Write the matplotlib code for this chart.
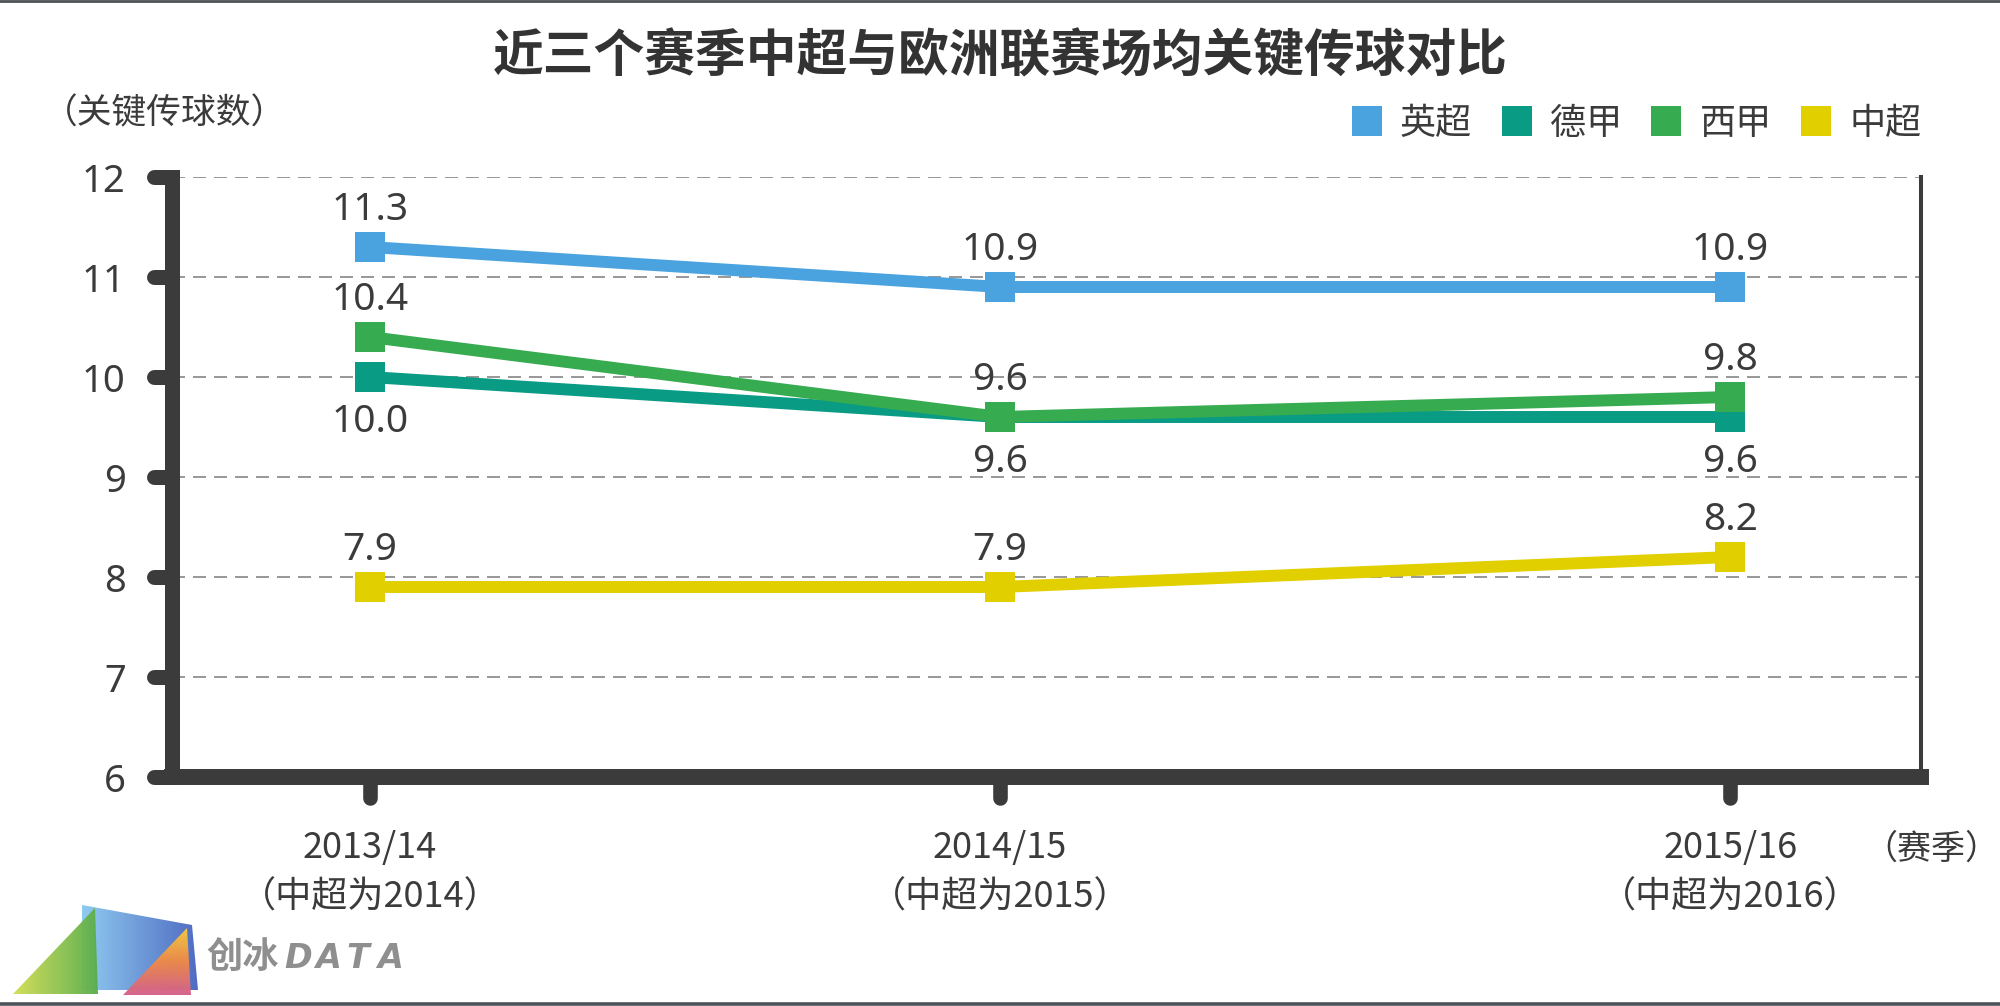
import matplotlib
matplotlib.use('Agg')
import matplotlib.pyplot as plt
import numpy as np
from matplotlib.markers import MarkerStyle
from matplotlib import lines as mlines
from matplotlib.lines import Line2D
from matplotlib.patches import Polygon
from matplotlib.colors import LinearSegmentedColormap

plt.rcParams['font.family'] = ['Noto Sans CJK SC', 'DejaVu Sans']

# ---------------- data ----------------
title = '近三个赛季中超与欧洲联赛场均关键传球对比'
seasons = ['2013/14\n（中超为2014）', '2014/15\n（中超为2015）', '2015/16\n（中超为2016）']
leagues = ['英超', '德甲', '西甲', '中超']
epl = [11.3, 10.9, 10.9]
bundesliga = [10.0, 9.6, 9.6]
laliga = [10.4, 9.6, 9.8]
csl = [7.9, 7.9, 8.2]
y_ticks = [6, 7, 8, 9, 10, 11, 12]
y_label = '（关键传球数）'
x_label = '（赛季）'
logo_text = '创冰'
logo_word = 'DATA'

# ---------------- layout / style ----------------
X_POS = [0.0, 1.0, 2.159]
colors = ['#4aa3df', '#0a9b84', '#36ab50', '#e2cf00']
label_side = [1, -1, 1, 1]
dark = '#3b3b3b'
num_font = ['Noto Sans', 'DejaVu Sans']
W, H = 2000, 1006

fig = plt.figure(figsize=(20, 10.06), dpi=100)
fig.patch.set_facecolor('white')
ax = fig.add_axes([171.5 / W, 1 - 777 / H, (1921 - 171.5) / W, 600 / H])

series = [epl, bundesliga, laliga, csl]
for vals, name, c in zip(series, leagues, colors):
    ax.plot(X_POS, vals, color=c, lw=8.6, marker='s', ms=21.6, mew=0,
            label=name, zorder=3, clip_on=False)

for vals, side in zip(series, label_side):
    for x, v in zip(X_POS, vals):
        ax.annotate(f'{v:.1f}', (x, v), xytext=(0, 19.5 if side > 0 else -39.6),
                    textcoords='offset points', ha='center', va='baseline',
                    fontsize=28, color=dark, zorder=4, family=num_font)

ax.set_xlim(-0.315, 2.462)
ax.set_ylim(6, 12)
ax.set_yticks(y_ticks)
ax.set_yticklabels([str(t) for t in y_ticks], family=num_font)
ax.set_xticks(X_POS)
ax.set_xticklabels(seasons, linespacing=1.45)
ax.tick_params(axis='x', length=15, width=10.5, color=dark, pad=23.5,
               labelsize=26, labelcolor=dark)
ax.tick_params(axis='y', length=13, width=10.8, color=dark, pad=20,
               labelsize=27.5, labelcolor=dark)
for t in ax.xaxis.get_major_ticks():
    t.tick1line.set_marker(MarkerStyle(mlines.TICKDOWN, capstyle='round'))
for t in ax.yaxis.get_major_ticks():
    t.tick1line.set_marker(MarkerStyle(mlines.TICKLEFT, capstyle='round'))

ax.set_axisbelow(True)
ax.grid(axis='y', color='#999999', lw=1.44, linestyle=(0, (6.5, 4)))
ax.grid(axis='x', visible=False)
ax.spines['top'].set_visible(False)
ax.spines['right'].set_linewidth(2.9)
ax.spines['right'].set_color(dark)
ax.spines['left'].set_linewidth(10.8)
ax.spines['left'].set_color(dark)
ax.spines['bottom'].set_linewidth(11.5)
ax.spines['bottom'].set_color(dark)
ax.spines['bottom'].set_capstyle('projecting')

# titles and labels
fig.text(0.5, 1 - 57 / H, title, ha='center', va='center', fontsize=36.5,
         fontweight='heavy', color='#333333')
fig.text(43 / W, 1 - 114 / H, y_label, ha='left', va='center', fontsize=25, color=dark)
fig.text(1999 / W, 1 - 849 / H, x_label, ha='right', va='center', fontsize=24.5, color=dark)

# legend
handles = [Line2D([], [], marker='s', ls='none', ms=21.6, mew=0, color=c) for c in colors]
fig.legend(handles, leagues, loc='center right', bbox_to_anchor=(1922 / W, 1 - 124 / H),
           ncol=4, frameon=False, fontsize=26, handlelength=0.85, handletextpad=0.5,
           columnspacing=0.8, borderpad=0, borderaxespad=0, labelcolor=dark)

# border lines top/bottom
fig.add_artist(Line2D([0, 1], [1 - 1.2 / H] * 2, transform=fig.transFigure,
                      color='#4d5257', lw=2.0))
fig.add_artist(Line2D([0, 1], [1.6 / H] * 2, transform=fig.transFigure,
                      color='#4d5257', lw=2.6))

# logo
lax = fig.add_axes([0, 0, 1, 1], zorder=-1)
lax.set_autoscale_on(False)
lax.set_xlim(0, W)
lax.set_ylim(H, 0)
lax.axis('off')


def grad_poly(verts, cols, horizontal=True, alpha=1.0):
    poly = Polygon(verts, closed=True, facecolor='none', edgecolor='none')
    lax.add_patch(poly)
    xs = [v[0] for v in verts]
    ys = [v[1] for v in verts]
    cmap = LinearSegmentedColormap.from_list('g', cols)
    g = np.linspace(0, 1, 256)
    grad = g.reshape(1, -1) if horizontal else g.reshape(-1, 1)
    im = lax.imshow(grad, cmap=cmap, extent=(min(xs), max(xs), max(ys), min(ys)),
                    aspect='auto', alpha=alpha, origin='upper', interpolation='bilinear')
    im.set_clip_path(poly)


grad_poly([(82, 905), (192, 925), (198, 990), (82, 990)], ['#8fcaf0', '#4f6cc2'])
grad_poly([(13, 994), (95, 908), (98, 994)], ['#d3de55', '#5aae4e'], alpha=0.97)
grad_poly([(123, 995), (187, 928), (191, 995)], ['#f6cb40', '#ef8a47', '#d4608c'],
          horizontal=False, alpha=0.97)
lax.text(206, 957, logo_text, fontsize=26, fontweight='heavy', color='#8f8f8f',
         ha='left', va='center')
for i, ch in enumerate(logo_word):
    lax.text(284 + i * 31, 959, ch, fontsize=24, fontweight='bold', fontstyle='italic',
             family='DejaVu Sans', color='#8f8f8f', ha='left', va='center')

fig.savefig('out.png', dpi=100, facecolor='white')
